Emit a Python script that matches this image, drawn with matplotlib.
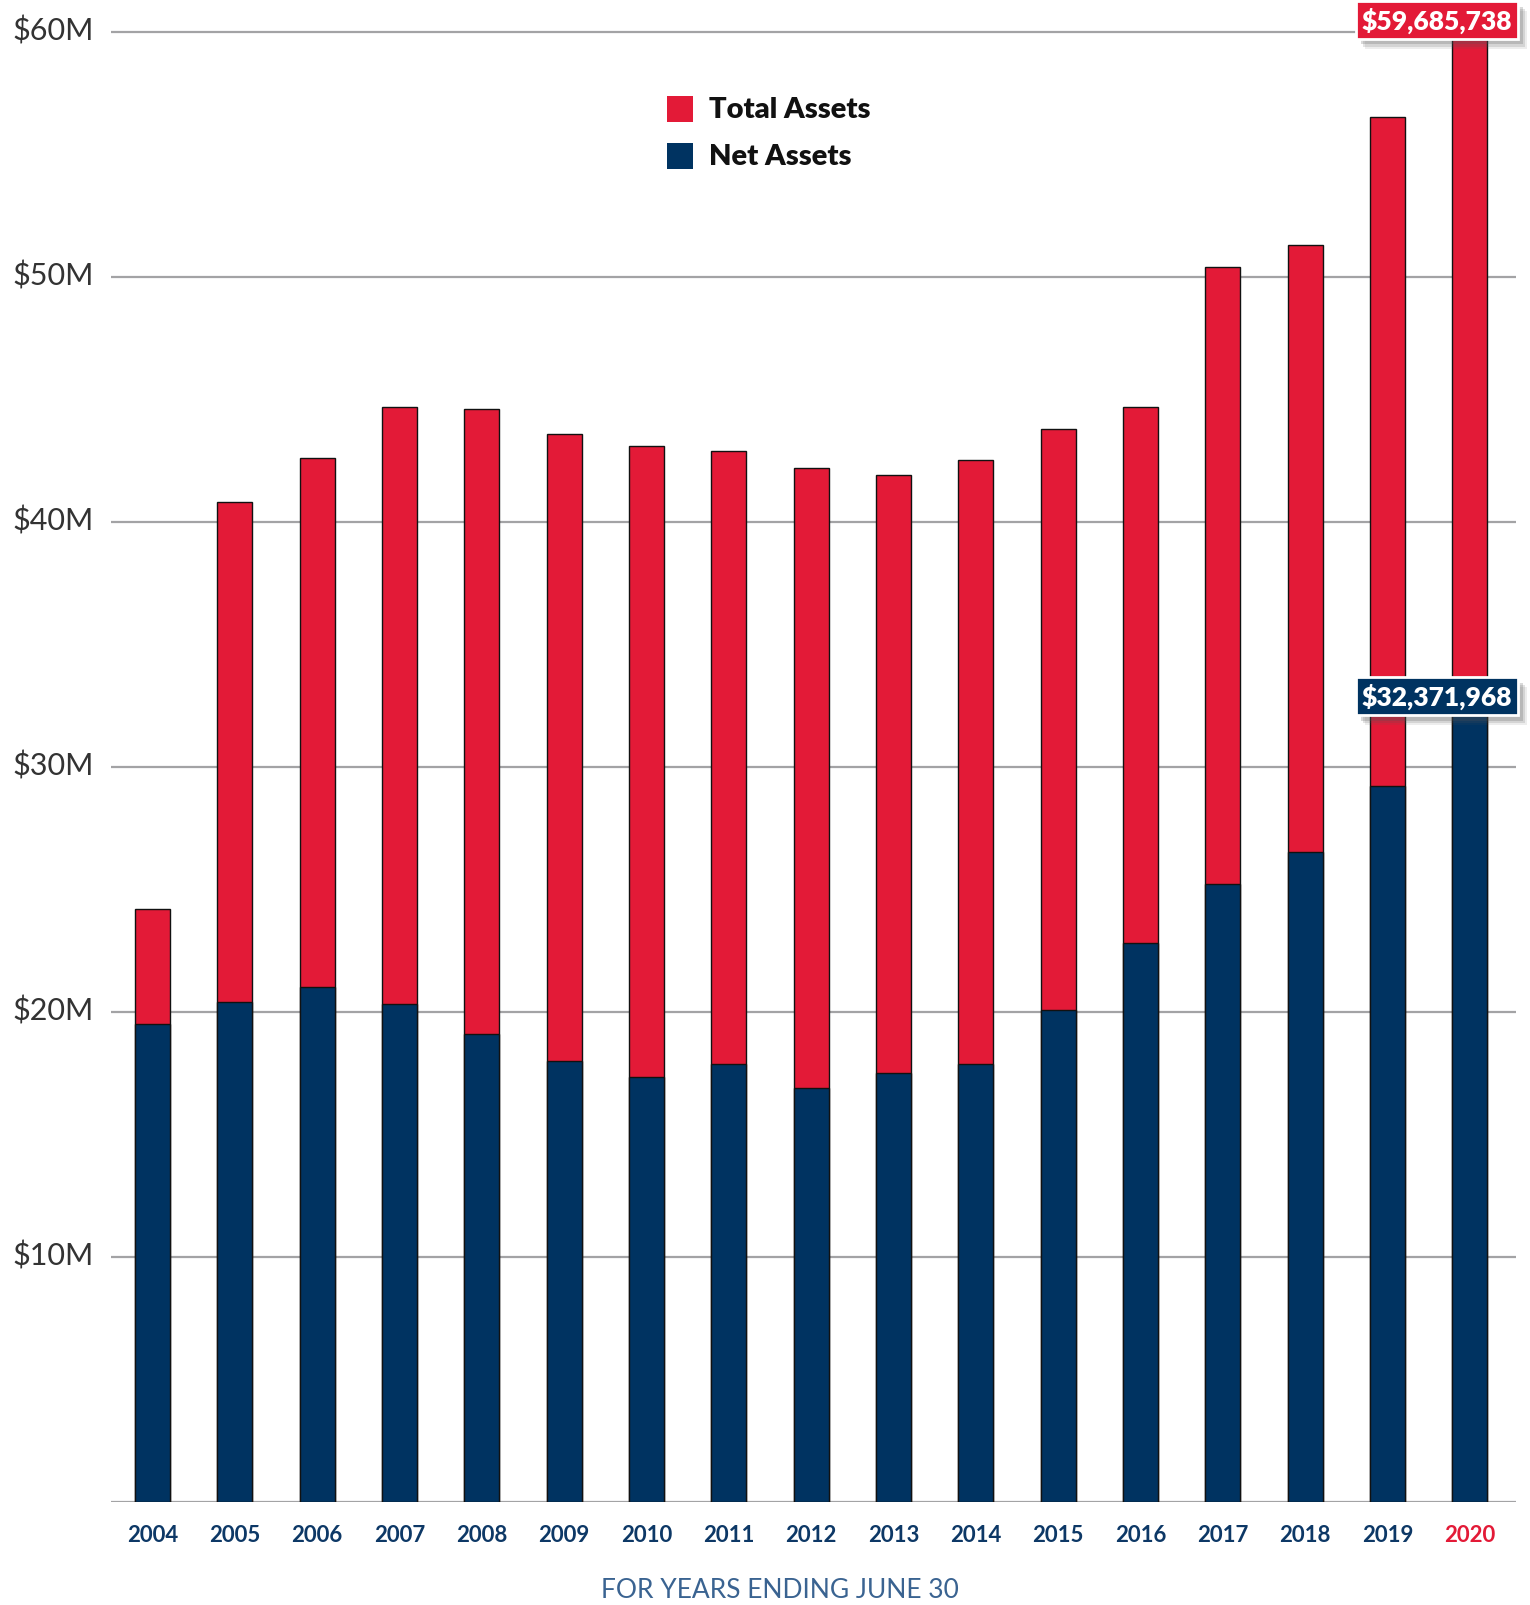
import matplotlib
matplotlib.use("Agg")
import matplotlib.pyplot as plt
from matplotlib.patches import Rectangle
import matplotlib.transforms as mtransforms
import matplotlib.patheffects as pe

years = ["2004", "2005", "2006", "2007", "2008", "2009", "2010", "2011", "2012",
         "2013", "2014", "2015", "2016", "2017", "2018", "2019", "2020"]
total_assets = [24.2, 40.8, 42.6, 44.7, 44.6, 43.6, 43.1, 42.9, 42.2,
                41.9, 42.5, 43.8, 44.7, 50.4, 51.3, 56.5, 59.685738]
net_assets = [19.5, 20.4, 21.0, 20.3, 19.1, 18.0, 17.35, 17.85, 16.9,
              17.5, 17.85, 20.07, 22.8, 25.2, 26.5, 29.2, 32.371968]
y_ticks = [10, 20, 30, 40, 50, 60]
y_tick_labels = ["$10M", "$20M", "$30M", "$40M", "$50M", "$60M"]
legend_labels = ["Total Assets", "Net Assets"]
total_label = "$59,685,738"
net_label = "$32,371,968"
footer = "FOR YEARS ENDING JUNE 30"

RED = "#e31a37"
NAVY = "#003361"
GRID = "#a3a3a5"

W, H = 1530, 1606
fig = plt.figure(figsize=(W / 100, H / 100), dpi=100)
fig.patch.set_facecolor("white")

ax_left, ax_right = 111, 1516
ax_bottom_px = 1502.7  # from top
ax = fig.add_axes([ax_left / W, (H - ax_bottom_px) / H, (ax_right - ax_left) / W, ax_bottom_px / H])
ax.set_xlim(-0.505, 16.56)
ax.set_ylim(0, ax_bottom_px / 24.5)
ax.axis("off")

x = list(range(len(years)))
for v in [0] + y_ticks:
    ax.axhline(v, color=GRID, lw=1.6, zorder=1)

ax.bar(x, total_assets, width=0.425, color=RED, edgecolor="#111111", linewidth=1.0, zorder=2)
ax.bar(x, net_assets, width=0.425, color=NAVY, edgecolor="#111111", linewidth=1.0, zorder=3)

# y tick labels
blend = mtransforms.blended_transform_factory(fig.transFigure, ax.transData)
for v, lab in zip(y_ticks, y_tick_labels):
    ax.text(12 / W, v + 0.08, lab, transform=blend, ha="left", va="center", fontsize=22,
            family="Lato", color="#333333", zorder=5)

# x tick labels
blend_x = mtransforms.blended_transform_factory(ax.transData, fig.transFigure)
for i, yr in enumerate(years):
    ax.text(i, (H - 1536) / H, yr, transform=blend_x, ha="center", va="center",
            fontsize=16, fontweight="bold", family="Lato",
            color=RED if yr == "2020" else "#0d3866")

# legend
for lab, col, ytop in zip(legend_labels, [RED, NAVY], [97, 144]):
    fig.patches.append(Rectangle((667 / W, (H - ytop - 26) / H), 26 / W, 26 / H,
                                 transform=fig.transFigure, facecolor=col, edgecolor="none"))
    fig.text(709 / W, (H - ytop - 13) / H, lab, ha="left", va="center", fontsize=21,
             fontweight="heavy", family="Lato", color="#111111")

# value labels with drop shadow on the box
shadow = [pe.SimplePatchShadow(offset=(7, -7), shadow_rgbFace="#555555", alpha=0.10),
          pe.SimplePatchShadow(offset=(5.5, -5.5), shadow_rgbFace="#555555", alpha=0.16),
          pe.SimplePatchShadow(offset=(4, -4), shadow_rgbFace="#555555", alpha=0.22),
          pe.Normal()]

def value_label(val, text, col, dy):
    t = ax.annotate(text, xy=(16, val), xytext=(-24, dy), textcoords="offset points",
                    ha="center", va="center", fontsize=19, fontweight="heavy", family="Lato",
                    color="white",
                    bbox=dict(boxstyle="square,pad=0.22", facecolor=col, edgecolor="white", linewidth=2),
                    zorder=7, annotation_clip=False)
    t.get_bbox_patch().set_path_effects(shadow)

value_label(total_assets[-1], total_label, RED, 14)
value_label(net_assets[-1], net_label, NAVY, 9)

fig.text(780 / W, (H - 1591) / H, footer, ha="center", va="center", fontsize=19,
         fontweight="normal", family="Lato", color="#3a6391")

fig.savefig("out.png", dpi=100, facecolor="white")
